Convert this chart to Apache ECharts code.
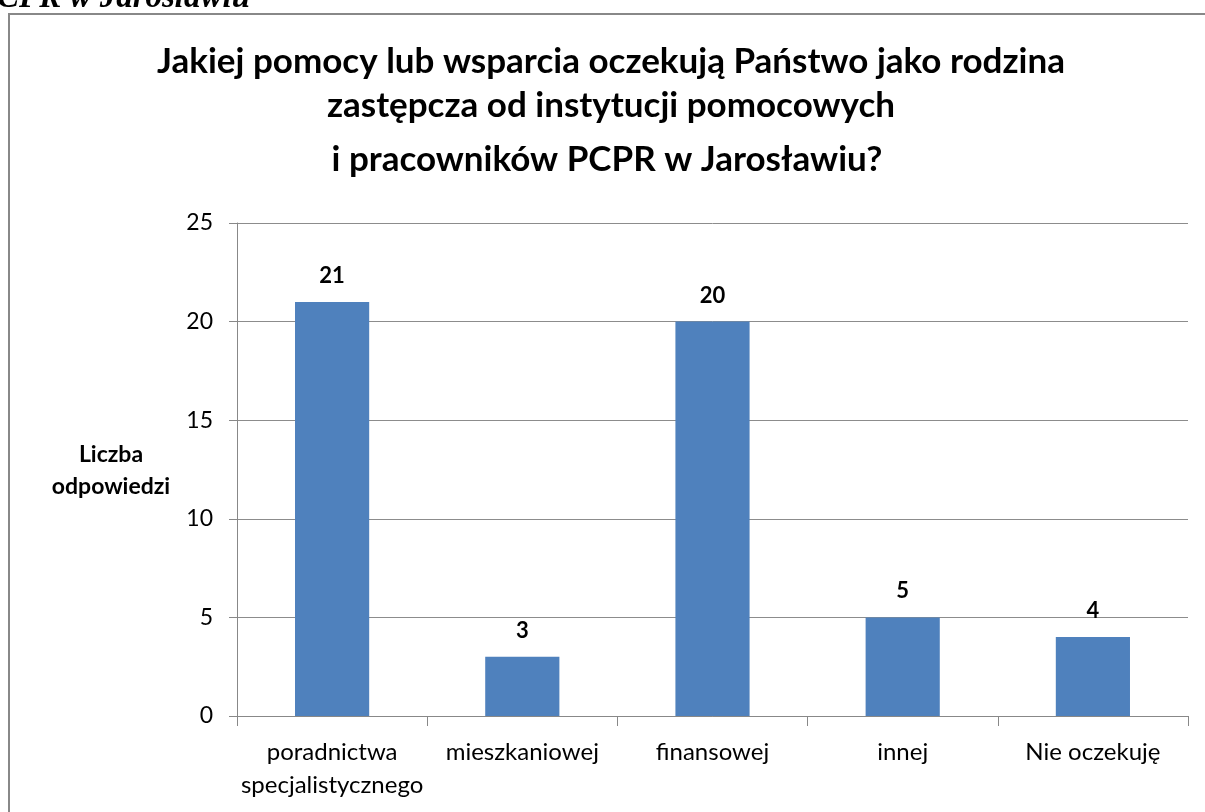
<!DOCTYPE html>
<html>
<head>
<meta charset="utf-8">
<script src="https://cdn.jsdelivr.net/npm/echarts@6/dist/echarts.min.js"></script>
<style>
  html, body { margin: 0; padding: 0; background: #fff; }
  #chart { width: 1205px; height: 812px; }
</style>
</head>
<body>
<div id="chart"></div>
<script>
// dane
var categories = ['poradnictwa\nspecjalistycznego', 'mieszkaniowej', 'finansowej', 'innej', 'Nie oczekuję'];
var values = [21, 3, 20, 5, 4];
var yTicks = [0, 5, 10, 15, 20, 25];
var titleLines = [
  'Jakiej pomocy lub wsparcia oczekują Państwo jako rodzina',
  'zastępcza od instytucji pomocowych',
  'i pracowników PCPR w Jarosławiu?'
];

var font = 'Lato, "Open Sans", sans-serif';

var chart = echarts.init(document.getElementById('chart'));
var option = {
  animation: false,
  backgroundColor: '#fff',
  graphic: [
    {
      type: 'text', x: -3, y: 15,
      style: { text: 'CPR w Jarosławiu', font: 'italic bold 33px "Liberation Serif"', fill: '#000', verticalAlign: 'bottom' }
    },
    {
      type: 'rect', shape: { x: 9, y: 14, width: 1300, height: 900 },
      style: { fill: 'none', stroke: '#888', lineWidth: 2 }
    },
    { type: 'text', x: 611, y: 62, style: { text: titleLines[0], font: 'bold 35px ' + font, fill: '#000', align: 'center', verticalAlign: 'middle' } },
    { type: 'text', x: 611, y: 106, style: { text: titleLines[1], font: 'bold 35px ' + font, fill: '#000', align: 'center', verticalAlign: 'middle' } },
    { type: 'text', x: 607, y: 160, style: { text: titleLines[2], font: 'bold 35px ' + font, fill: '#000', align: 'center', verticalAlign: 'middle' } },
    {
      type: 'text', x: 111, y: 471,
      style: { text: 'Liczba\nodpowiedzi', font: 'bold 23px ' + font, fill: '#000', align: 'center', verticalAlign: 'middle', lineHeight: 32 }
    }
  ],
  grid: { left: 237, right: 17, top: 223, bottom: 96 },
  xAxis: {
    type: 'category',
    data: categories,
    axisLine: { lineStyle: { color: '#888', width: 1 } },
    axisTick: { show: true, length: 10, lineStyle: { color: '#888' } },
    axisLabel: { interval: 0, fontFamily: font, fontSize: 24, color: '#000', margin: 20, lineHeight: 33 }
  },
  yAxis: {
    type: 'value',
    min: yTicks[0],
    max: yTicks[yTicks.length - 1],
    interval: 5,
    axisLine: { show: true, lineStyle: { color: '#888', width: 1 } },
    axisTick: { show: true, length: 8, lineStyle: { color: '#888' } },
    splitLine: { lineStyle: { color: '#8c8c8c', width: 1 } },
    axisLabel: { fontFamily: font, fontSize: 23, color: '#000', margin: 24 }
  },
  series: [{
    type: 'bar',
    data: values,
    barWidth: '39%',
    itemStyle: { color: '#4F81BD' },
    label: {
      show: true, position: 'top', distance: 15,
      fontFamily: font, fontSize: 22, fontWeight: 'bold', color: '#000'
    }
  }]
};
chart.setOption(option);
</script>
</body>
</html>
